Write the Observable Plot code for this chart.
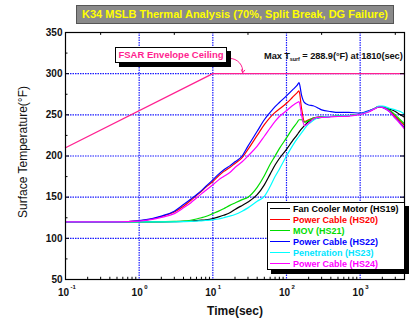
<!DOCTYPE html>
<html><head><meta charset="utf-8">
<script src="https://cdn.jsdelivr.net/npm/d3@7"></script>
<script src="https://cdn.jsdelivr.net/npm/@observablehq/plot@0.6"></script>
<style>
body{margin:0;background:#fff;font-family:Arial,"Liberation Sans",sans-serif}
#wrap{position:relative;width:414px;height:320px;overflow:hidden}
#title{position:absolute;left:76px;top:5px;width:316px;height:17px;background:#8a8a8a;border:1px solid #555;color:#ffff00;font-weight:bold;font-size:11px;line-height:17px;text-align:center}
#ylab{position:absolute;left:23px;top:152px;transform:translate(-50%,-50%) rotate(-90deg);font-size:12px;white-space:nowrap;color:#111}
#xlab{position:absolute;left:235px;top:311px;transform:translate(-50%,-50%);font-size:12px;font-weight:bold;white-space:nowrap;color:#111}
#fsar{position:absolute;left:115px;top:47px;width:110px;height:14px;background:#fff;border:1px solid #000;box-shadow:4px 4px 0 #000;color:#ff1f8f;font-weight:bold;font-size:9.5px;line-height:14px;text-align:center}
#maxt{position:absolute;left:264px;top:51px;font-size:9.3px;font-weight:bold;white-space:nowrap;color:#111;letter-spacing:-0.1px}
#maxt sub{font-size:5.5px;vertical-align:-2px}
#legend{position:absolute;left:267px;top:202px;width:136px;height:66px;background:#fff;border:1px solid #000;box-shadow:4px 4px 0 #000}
.row{position:absolute;left:2px;height:11px;font-size:9px;font-weight:bold;white-space:nowrap;line-height:11px}
.row i{display:inline-block;width:20px;height:0;border-top:1.3px solid;vertical-align:middle;margin-right:3px;position:relative;top:-1px}
svg{position:absolute;left:0;top:0}
</style></head><body>
<div id="wrap"></div>
<script>
const time = [0.1,0.5,1,1.5,2,3,4,5,6,7,8,10,12,14,17,20,25,30,40,50,60,70,80,100,120,140,148,160,175,200,230,260,300,400,500,700,1000,1300,1600,1800,2000,2500,3000,3500,4000];
const hs19 = [120,120,120,120,120,120.2,120.5,121,121.5,122,122.5,124,126,128,131,135,140,144,153,165,178,189,197,208,218,226,229,233,237,242,245,246,247,248,248.5,249,251,254,258,260,260,257,254,250,247];
const hs20 = [120,120,121.3,123.5,126.5,132,139,146,152,157,162,169,176,181,186,191,198,208,225,238,247,253,257,264,271,277,279,258,242,244,246,247,247.5,248,248,249,251,254,258,260,259.5,255,248,242,237];
const hs21 = [120,120,120,120,120.2,120.5,121,122,123.5,125,126.5,130,133,136,140,143,147,150,162,176,190,200,209,222,233,241,244,244,241,243,246,247,247.5,248,248.5,249,251,254,258,260,259.5,256,250,244,239];
const hs22 = [120,120,121.5,124,127,133,141,147.5,153,158,163,171,178,183,188,193,200,212,230,244,253,260,265,273,280,286,289,274,265,262,261,259,256,254,253,253,252,255,258,260,259,254,246,240,234];
const hs23 = [120,120,120,120,120,120,120.2,120.5,121,121.3,121.7,122.5,123.5,125,127,129,133,137,145,151,163,175,184,200,212,221,224,228,233,239,243,246,247,248,248.5,249,251,254,258,260.5,260.5,258,256,254,251];
const hs24 = [120,120,121,123,125.5,130,137,143,149,154,158,165,171,175,180,186,193,200,212,224,234,242,248,255,261,265,266,250,237,240,245,247,247,247.5,248,248.5,250.5,253.5,257.5,259.5,259,254,246,239,233];
const seriesNames = ["Fan Cooler Motor (HS19)","Power Cable (HS20)","MOV (HS21)","Power Cable (HS22)","Penetration (HS23)","Power Cable (HS24)"];
const seriesColors = ["#000000","#ff0000","#00dd00","#0000ff","#00ffff","#ff00ff"];
const seriesValues = [hs19,hs20,hs21,hs22,hs23,hs24];
const envTime = [0.1,10,4000];
const envTemp = [210,300,300];
const arrowPts = [{x1:17,y1:318.5,x2:25.4,y2:301}];
const xMajor = [0.1,1,10,100,1000];
const xExp = ["-1","0","1","2","3"];
const xGrid = [1,10,100,1000];
const yMajor = [50,100,150,200,250,300,350];
const yGrid = [100,150,200,250,300];
const yMinor = [75,125,175,225,275,325];
const xMinor = [];
for (const d of [0.1,1,10,100,1000]) for (let m=2;m<=9;m++){ if (d*m<=4000) xMinor.push(d*m); }

const blueGrid = {stroke:"#1a1aff", strokeWidth:1.2, strokeDasharray:"1.5,1"};
const env = envTime.map((t,i)=>({t, T:envTemp[i]}));
const lines = seriesValues.map((vals,k)=>Plot.line(time.map((t,i)=>({t, T:vals[i]})), {x:"t", y:"T", stroke:seriesColors[k], strokeWidth:1.2, curve:"monotone-x"}));
const tl = 0.1*Math.pow(10, 4/74), tr = 4000/Math.pow(10, 4/74);
const tl2 = 0.1*Math.pow(10, 2.5/74);

const chart = Plot.plot({
  width:414, height:320, marginLeft:65, marginRight:10, marginTop:32, marginBottom:41,
  x:{type:"log", domain:[0.1,4000], axis:null},
  y:{domain:[50,350]},
  style:{fontFamily:"Arial, 'Liberation Sans', sans-serif", background:"transparent"},
  marks:[
    Plot.ruleX(xGrid, {x:d=>d, ...blueGrid}),
    Plot.ruleY(yGrid, {y:d=>d, ...blueGrid}),
    Plot.line(env, {x:"t", y:"T", stroke:"#ff2090", strokeWidth:1.3}),
    Plot.arrow(arrowPts, {x1:"x1", y1:"y1", x2:"x2", y2:"y2", bend:50, stroke:"#ff2090", strokeWidth:1, headLength:5}),
    ...lines,
    Plot.ruleX(xMinor, {x:d=>d, y1:50, y2:52.7, stroke:"#000"}),
    Plot.ruleX(xMinor.filter(d=>[3,30,300,3000].includes(Math.round(d))).concat([0.3]), {x:d=>d, y1:350, y2:346.5, stroke:"#000"}),
    Plot.ruleY(yMinor, {y:d=>d, x1:0.1, x2:tl2, stroke:"#000"}),
    Plot.ruleY(yMajor, {y:d=>d, x1:0.1, x2:tl, stroke:"#000"}),
    Plot.ruleY(yMajor, {y:d=>d, x1:tr, x2:4000, stroke:"#000"}),
    Plot.frame({stroke:"#000", strokeWidth:1.2}),
    Plot.axisY(yMajor, {tickSize:0, tickPadding:3, fontWeight:"bold", fontSize:10, label:null, fill:"#111"}),
    Plot.text(xMajor, {x:d=>d, y:()=>50, text:()=>"10", dy:13, dx:-2, fontWeight:"bold", fontSize:10, fill:"#111"}),
    Plot.text(xMajor, {x:d=>d, y:()=>50, text:(d,i)=>xExp[i], dy:8, dx:5, textAnchor:"start", fontWeight:"bold", fontSize:6, fill:"#111"})
  ]
});
const wrap = document.getElementById("wrap");
wrap.appendChild(chart);
const add = (html)=>{ const d=document.createElement("div"); d.innerHTML=html; while(d.firstChild) wrap.appendChild(d.firstChild); };
add('<div id="title">K34 MSLB Thermal Analysis (70%, Split Break, DG Failure)</div>');
add('<div id="ylab">Surface Temperature(°F)</div>');
add('<div id="xlab">Time(sec)</div>');
add('<div id="fsar">FSAR Envelope Ceiling</div>');
add('<div id="maxt">Max T<sub>surf</sub> = 288.9(°F) at 1810(sec)</div>');
let leg = '<div id="legend">';
seriesNames.forEach((n,i)=>{ leg += `<div class="row" style="top:${1+i*10.9}px;color:${seriesColors[i]==="#00ffff"?"#00e5ff":seriesColors[i]}"><i style="border-color:${seriesColors[i]}"></i>${n}</div>`; });
leg += '</div>';
add(leg);
</script>
</body></html>
